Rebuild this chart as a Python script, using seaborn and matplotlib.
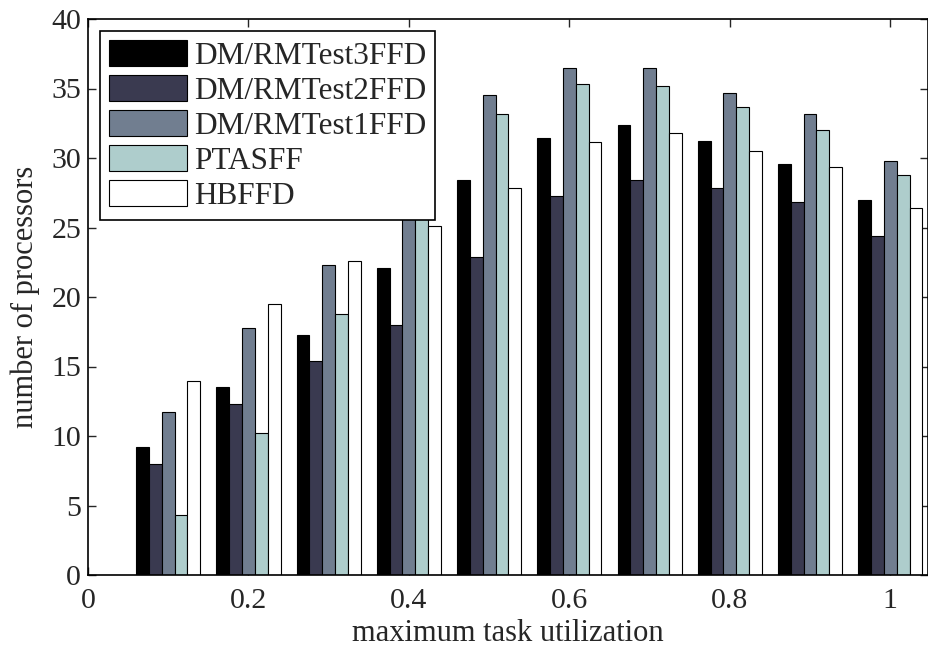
import matplotlib
matplotlib.use("Agg")
import matplotlib.pyplot as plt
import seaborn as sns
import pandas as pd
import numpy as np

utilization = [0.0, 0.1, 0.2, 0.3, 0.4, 0.5, 0.6, 0.7, 0.8, 0.9, 1.0]
series_names = ["DM/RMTest3FFD", "DM/RMTest2FFD", "DM/RMTest1FFD", "PTASFF", "HBFFD"]
test3 = [0, 9.2, 13.55, 17.25, 22.1, 28.4, 31.45, 32.35, 31.2, 29.6, 26.95]
test2 = [0, 8.0, 12.3, 15.4, 17.95, 22.9, 27.3, 28.4, 27.85, 26.8, 24.4]
test1 = [0, 11.7, 17.75, 22.3, 28.3, 34.55, 36.45, 36.45, 34.7, 33.15, 29.75]
ptasff = [0, 4.35, 10.2, 18.8, 27.0, 33.15, 35.35, 35.15, 33.65, 32.05, 28.75]
hbffd = [0, 13.95, 19.5, 22.6, 25.1, 27.85, 31.15, 31.8, 30.5, 29.35, 26.4]
colors = ["#000000", "#3a3a50", "#717e90", "#aecdcc", "#ffffff"]

values = [test3, test2, test1, ptasff, hbffd]
rows = []
for name, vals in zip(series_names, values):
    for u, v in zip(utilization, vals):
        rows.append({"u": u, "val": v, "alg": name})
df = pd.DataFrame(rows)

sns.set_style("white")
plt.rcParams["font.family"] = ["Liberation Serif", "DejaVu Serif"]

fig = plt.figure(figsize=(9.29, 6.5), dpi=100)
ax = fig.add_axes([88 / 929, 1 - 575 / 650, (928 - 88) / 929, (575 - 19) / 650])

sns.barplot(data=df, x="u", y="val", hue="alg", hue_order=series_names,
            palette=colors, native_scale=True, width=0.8, ax=ax,
            edgecolor="black", linewidth=0.8, saturation=1, errorbar=None)

ax.set_xlim(0, 1.047)
ax.set_ylim(0, 40)
ax.set_xticks([0, 0.2, 0.4, 0.6, 0.8, 1.0])
ax.set_xticklabels(["0", "0.2", "0.4", "0.6", "0.8", "1"])
ax.set_yticks(range(0, 41, 5))
ax.tick_params(axis="both", direction="in", length=6, width=1, labelsize=21.5,
               top=True, right=True, bottom=True, left=True)
ax.tick_params(axis="x", pad=9)
ax.tick_params(axis="y", pad=5)
for s in ax.spines.values():
    s.set_visible(True)
    s.set_color("black")
    s.set_linewidth(1.2)
ax.set_xlabel("maximum task utilization", fontsize=22, labelpad=4)
ax.set_ylabel("number of processors", fontsize=22, labelpad=8)

leg = ax.legend(loc="upper left", bbox_to_anchor=(12 / 840, 1 - 12 / 556),
                fontsize=22.5, frameon=True, fancybox=False, framealpha=1,
                edgecolor="black", handlelength=2.5, handleheight=0.9,
                handletextpad=0.22, labelspacing=0.14, borderpad=0.28,
                borderaxespad=0)
leg.get_frame().set_linewidth(1.2)
leg.set_title(None)

fig.savefig("out.png", dpi=100)
